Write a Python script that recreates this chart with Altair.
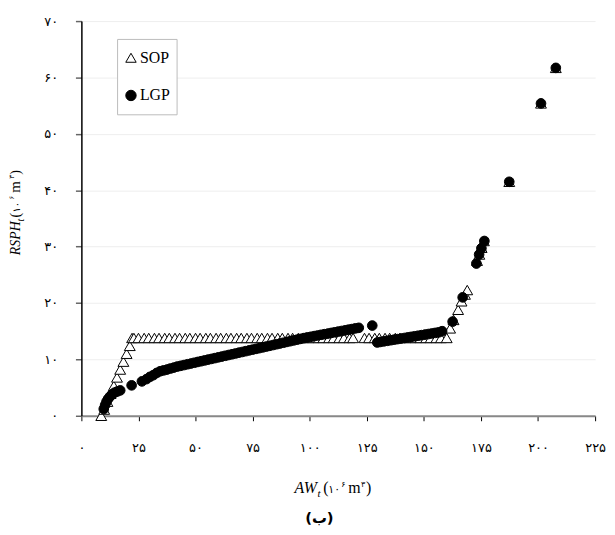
import altair as alt
import pandas as pd

# ---------------- data ----------------
SOP_x = [8.7, 10.0, 11.4, 12.8, 14.2, 15.6, 17.0, 18.4, 19.8, 21.2, 22.2,
         23.0, 25.0, 27.5, 29.5, 32.0, 34.0, 36.5, 38.5, 41.0, 43.0, 45.5, 47.5,
         50.0, 52.0, 54.5, 56.5, 59.0, 61.0, 63.5, 65.5, 68.0, 70.0, 72.5, 74.5,
         77.0, 79.0, 81.5, 83.5, 86.0, 88.0, 90.5, 92.5, 95.0, 97.0, 99.5, 101.5,
         104.0, 106.0, 108.5, 110.5, 113.0, 115.0, 117.5, 119.0,
         124.0, 126.0, 128.5, 130.5, 133.0, 135.0, 137.5, 139.5, 142.0, 144.0,
         146.5, 148.5, 151.0, 153.0, 155.5, 157.5, 160.0,
         161.5, 163.0, 165.0, 166.5, 168.0, 169.0,
         173.3, 174.3, 175.3, 176.3, 187.4, 201.3, 207.8]
SOP_y = [0.0, 1.1, 2.5, 3.9, 5.3, 6.8, 8.2, 9.6, 11.0, 12.4, 13.8,
         13.8, 13.8, 13.8, 13.8, 13.8, 13.8, 13.8, 13.8, 13.8, 13.8, 13.8, 13.8,
         13.8, 13.8, 13.8, 13.8, 13.8, 13.8, 13.8, 13.8, 13.8, 13.8, 13.8, 13.8,
         13.8, 13.8, 13.8, 13.8, 13.8, 13.8, 13.8, 13.8, 13.8, 13.8, 13.8, 13.8,
         13.8, 13.8, 13.8, 13.8, 13.8, 13.8, 13.8, 13.8,
         13.8, 13.8, 13.8, 13.8, 13.8, 13.8, 13.8, 13.8, 13.8, 13.8,
         13.8, 13.8, 13.8, 13.8, 13.8, 13.8, 13.8,
         15.5, 17.0, 18.8, 20.3, 21.5, 22.3,
         27.5, 28.6, 29.8, 31.0, 41.5, 55.4, 61.7]

LGP_x = [9.8, 10.4, 11.0, 11.7, 12.5, 13.4, 14.5, 15.7, 17.0, 22.0, 26.5,
         28.5, 30.0, 31.5, 33.0, 34.5, 36.0, 37.5, 39.0, 40.5, 42.0, 43.5, 45.0,
         46.5, 48.0, 49.5, 51.0, 52.5, 54.0, 55.5, 57.0, 58.5, 60.0, 61.5, 63.0,
         64.5, 66.0, 67.5, 69.0, 70.5, 72.0, 73.5, 75.0, 76.5, 78.0, 79.5, 81.0,
         82.5, 84.0, 85.5, 87.0, 88.5, 90.0, 91.5, 93.0, 94.5, 96.0, 97.5, 99.0,
         100.5, 102.0, 103.5, 105.0, 106.5, 108.0, 109.5, 111.0, 112.5, 114.0,
         115.5, 117.0, 118.5, 120.0, 121.5, 127.4,
         129.6, 131.0, 132.5, 134.0, 135.5, 137.0, 138.5, 140.0, 141.5, 143.0,
         144.5, 146.0, 147.5, 149.0, 150.5, 152.0, 153.5, 155.0, 156.5, 158.0,
         162.6, 167.0, 173.0, 174.2, 175.2, 176.5, 187.4, 201.3, 207.8]
LGP_y = [1.2, 1.9, 2.5, 3.0, 3.4, 3.8, 4.1, 4.3, 4.5, 5.4, 6.1,
         6.5, 6.9, 7.2, 7.6, 7.9, 8.05, 8.2, 8.38, 8.55, 8.73, 8.86, 9.0,
         9.14, 9.27, 9.41, 9.55, 9.68, 9.82, 9.96, 10.09, 10.23, 10.37, 10.5, 10.64,
         10.78, 10.91, 11.05, 11.19, 11.32, 11.46, 11.6, 11.73, 11.87, 12.0, 12.14, 12.28,
         12.41, 12.55, 12.69, 12.82, 12.96, 13.1, 13.23, 13.37, 13.5, 13.64, 13.78, 13.9,
         14.01, 14.13, 14.24, 14.36, 14.47, 14.58, 14.7, 14.81, 14.93, 15.04,
         15.15, 15.27, 15.38, 15.5, 15.6, 16.0,
         13.0, 13.1, 13.2, 13.3, 13.4, 13.5, 13.6, 13.7, 13.8, 13.9,
         14.0, 14.1, 14.2, 14.3, 14.4, 14.5, 14.6, 14.7, 14.8, 15.0,
         16.7, 21.0, 27.0, 28.6, 29.7, 31.0, 41.5, 55.4, 61.7]

SERIES = ["SOP", "LGP"]
X_TICKS = [0, 25, 50, 75, 100, 125, 150, 175, 200, 225]
X_LABELS = ["۰", "۲۵", "۵۰", "۷۵", "۱۰۰", "۱۲۵", "۱۵۰", "۱۷۵", "۲۰۰", "۲۲۵"]
Y_TICKS = [0, 10, 20, 30, 40, 50, 60, 70]
Y_LABELS = ["۰", "۱۰", "۲۰", "۳۰", "۴۰", "۵۰", "۶۰", "۷۰"]

rows = [{"x": a, "y": b, "series": "SOP"} for a, b in zip(SOP_x, SOP_y)]
rows += [{"x": a, "y": b, "series": "LGP"} for a, b in zip(LGP_x, LGP_y)]
df = pd.DataFrame(rows)


def label_expr(vals, labels):
    expr = "''"
    for v, l in reversed(list(zip(vals, labels))):
        expr = f"datum.value == {v} ? '{l}' : {expr}"
    return expr


legend = alt.Legend(
    title=None, orient="none", legendX=36, legendY=18, padding=6,
    rowPadding=12, clipHeight=26, strokeColor="#bbbbbb", fillColor="white",
    labelFont="Liberation Serif", labelFontSize=16, labelColor="black",
    labelOffset=1, symbolSize=110, symbolStrokeColor="black",
    symbolStrokeWidth=1,
)

x_enc = alt.X("x:Q", scale=alt.Scale(domain=[0, 225], nice=False),
              axis=alt.Axis(values=X_TICKS, labelExpr=label_expr(X_TICKS, X_LABELS),
                            title=None, grid=False, domainColor="#888888", domainWidth=2,
                            tickColor="black", tickSize=5, tickWidth=1,
                            labelPadding=21, labelFont="DejaVu Sans", labelFontSize=13,
                            labelColor="black", labelFlush=False))
y_enc = alt.Y("y:Q", scale=alt.Scale(domain=[0, 70], nice=False),
              axis=alt.Axis(values=Y_TICKS, labelExpr=label_expr(Y_TICKS, Y_LABELS),
                            title=None, grid=True, gridColor="#eeeeee",
                            domainColor="black", domainWidth=1.5,
                            tickColor="#666666", tickSize=6, tickWidth=1.5,
                            labelPadding=18, labelFont="DejaVu Sans", labelFontSize=13,
                            labelColor="black"))
fill_enc = alt.Fill("series:N", scale=alt.Scale(domain=SERIES, range=["white", "black"]), legend=legend)
shape_enc = alt.Shape("series:N", scale=alt.Scale(domain=SERIES, range=["triangle-up", "circle"]), legend=legend)
stroke_enc = alt.Stroke("series:N", scale=alt.Scale(domain=SERIES, range=["black", "black"]), legend=legend)

base = alt.Chart(df).encode(x=x_enc, y=y_enc, fill=fill_enc, shape=shape_enc, stroke=stroke_enc)
sop = base.transform_filter(alt.datum.series == "SOP").mark_point(
    opacity=1, fillOpacity=1, strokeWidth=1, size=120)
lgp = base.transform_filter(alt.datum.series == "LGP").mark_point(
    opacity=1, fillOpacity=1, strokeWidth=1, size=95)


def piece(text, x, y, size, font="Liberation Serif, DejaVu Sans", style="normal",
          angle=0, weight="normal", align="left", baseline="alphabetic"):
    return alt.Chart(alt.Data(values=[{"k": 0}])).mark_text(
        text=text, font=font, fontSize=size, fontStyle=style, fontWeight=weight,
        angle=angle, align=align, baseline=baseline, color="black",
    ).encode(x=alt.value(x), y=alt.value(y))


DIG = "DejaVu Sans"
texts = [
    # x-axis title
    piece("AW", 215, 476, 16, style="italic"),
    piece("t", 238, 480, 11, style="italic"),
    piece("(", 244, 476, 16),
    piece("۱۰", 249, 476, 11, font=DIG),
    piece("۶", 262, 470, 8, font=DIG),
    piece("m", 269, 476, 16),
    piece("۳", 282, 470, 8, font=DIG),
    piece(")", 287, 476, 16),
    # panel label
    piece("(ب)", 240, 501, 15, font=DIG, weight="bold", align="center", baseline="middle"),
    # y-axis title (rotated)
    piece("RSPH", -62, 236, 14, style="italic", angle=270),
    piece("t", -58, 202, 10, style="italic", angle=270),
    piece("(", -62, 198, 14, angle=270),
    piece("۱۰", -62, 193, 10, font=DIG, angle=270),
    piece("۶", -68, 180, 7, font=DIG, angle=270),
    piece("m", -62, 173, 15, angle=270),
    piece("۳", -68, 159, 7, font=DIG, angle=270),
    piece(")", -62, 155, 14, angle=270),
]

chart = alt.layer(sop, lgp, *texts).properties(
    width=518, height=398,
    padding={"left": 74, "top": 11, "right": 12, "bottom": 116},
    autosize=alt.AutoSizeParams(type="none"),
    background="white",
).configure_view(stroke=None)

chart.save("out.html", embed_options={"renderer": "svg", "actions": False})
